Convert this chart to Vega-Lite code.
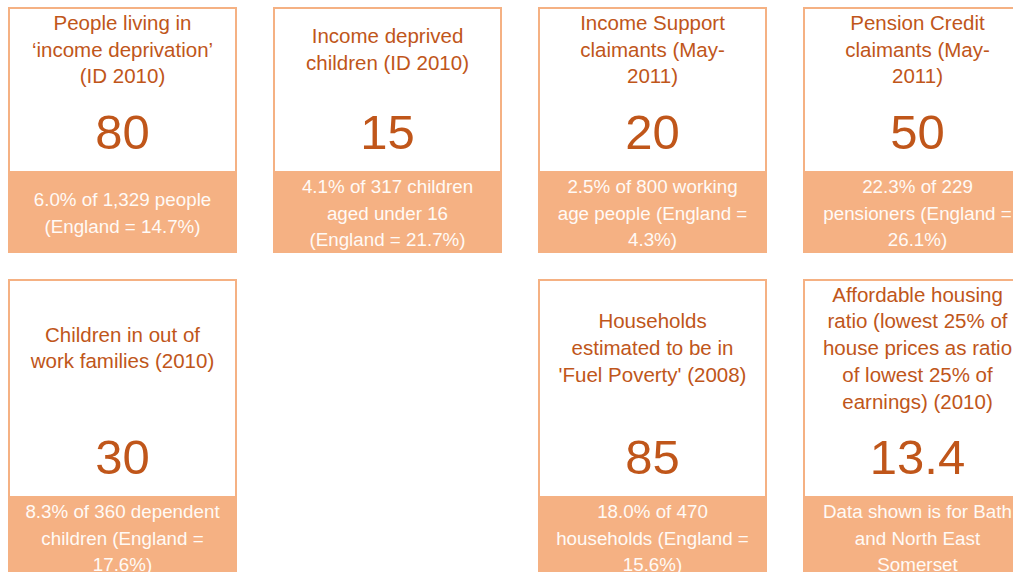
{
  "$schema": "https://vega.github.io/schema/vega-lite/v6.json",
  "width": 1013,
  "height": 572,
  "padding": 0,
  "autosize": {"type": "none"},
  "background": "white",
  "config": {"view": {"stroke": null}, "font": "Liberation Sans"},
  "data": {
    "values": [
      {"col": 0, "row": 1, "title": "People living in\n‘income deprivation’\n(ID 2010)", "value": "80", "note": "6.0% of 1,329 people\n(England = 14.7%)"},
      {"col": 1, "row": 1, "title": "Income deprived\nchildren (ID 2010)", "value": "15", "note": "4.1% of 317 children\naged under 16\n(England = 21.7%)"},
      {"col": 2, "row": 1, "title": "Income Support\nclaimants (May-\n2011)", "value": "20", "note": "2.5% of 800 working\nage people (England =\n4.3%)"},
      {"col": 3, "row": 1, "title": "Pension Credit\nclaimants (May-\n2011)", "value": "50", "note": "22.3% of 229\npensioners (England =\n26.1%)"},
      {"col": 0, "row": 2, "title": "Children in out of\nwork families (2010)", "value": "30", "note": "8.3% of 360 dependent\nchildren (England =\n17.6%)"},
      {"col": 2, "row": 2, "title": "Households\nestimated to be in\n'Fuel Poverty' (2008)", "value": "85", "note": "18.0% of 470\nhouseholds (England =\n15.6%)"},
      {"col": 3, "row": 2, "title": "Affordable housing\nratio (lowest 25% of\nhouse prices as ratio\nof lowest 25% of\nearnings) (2010)", "value": "13.4", "note": "Data shown is for Bath\nand North East\nSomerset"}
    ]
  },
  "encoding": {
    "x": {"field": "col", "type": "quantitative", "scale": {"domain": [0, 3], "range": [122.5, 917.5]}, "axis": null},
    "y": {"field": "row", "type": "quantitative", "scale": {"domain": [1, 2], "range": [8, 280]}, "axis": null}
  },
  "layer": [
    {
      "transform": [{"filter": "datum.row == 1"}],
      "layer": [
        {"mark": {"type": "rect", "width": 227, "height": 244, "yOffset": 122, "fill": "white", "stroke": "#f5b183", "strokeWidth": 2, "clip": true}},
        {"mark": {"type": "rect", "width": 229, "height": 82, "yOffset": 204, "fill": "#f5b183", "clip": true}},
        {"mark": {"type": "text", "yOffset": 42.5, "dy": {"expr": "-13.375 * (length(split(datum.title, '\\n')) - 1)"}, "fontSize": 20.5, "lineHeight": 26.75, "lineBreak": "\n", "align": "center", "baseline": "middle", "color": "#c0561a", "clip": true}, "encoding": {"text": {"field": "title"}}},
        {"mark": {"type": "text", "yOffset": 126, "fontSize": 49, "align": "center", "baseline": "middle", "color": "#c0561a", "clip": true}, "encoding": {"text": {"field": "value"}}},
        {"mark": {"type": "text", "yOffset": 205.5, "dy": {"expr": "-13.375 * (length(split(datum.note, '\\n')) - 1)"}, "fontSize": 18.8, "lineHeight": 26.75, "lineBreak": "\n", "align": "center", "baseline": "middle", "color": "#fffaf6", "clip": true}, "encoding": {"text": {"field": "note"}}}
      ]
    },
    {
      "transform": [{"filter": "datum.row == 2"}],
      "layer": [
        {"mark": {"type": "rect", "width": 227, "height": 320, "yOffset": 160, "fill": "white", "stroke": "#f5b183", "strokeWidth": 2, "clip": true}},
        {"mark": {"type": "rect", "width": 229, "height": 104, "yOffset": 268, "fill": "#f5b183", "clip": true}},
        {"mark": {"type": "text", "yOffset": 69, "dy": {"expr": "-13.375 * (length(split(datum.title, '\\n')) - 1)"}, "fontSize": 20.5, "lineHeight": 26.75, "lineBreak": "\n", "align": "center", "baseline": "middle", "color": "#c0561a", "clip": true}, "encoding": {"text": {"field": "title"}}},
        {"mark": {"type": "text", "yOffset": 179, "fontSize": 49, "align": "center", "baseline": "middle", "color": "#c0561a", "clip": true}, "encoding": {"text": {"field": "value"}}},
        {"mark": {"type": "text", "yOffset": 258.5, "dy": {"expr": "-13.375 * (length(split(datum.note, '\\n')) - 1)"}, "fontSize": 18.8, "lineHeight": 26.75, "lineBreak": "\n", "align": "center", "baseline": "middle", "color": "#fffaf6", "clip": true}, "encoding": {"text": {"field": "note"}}}
      ]
    }
  ]
}
